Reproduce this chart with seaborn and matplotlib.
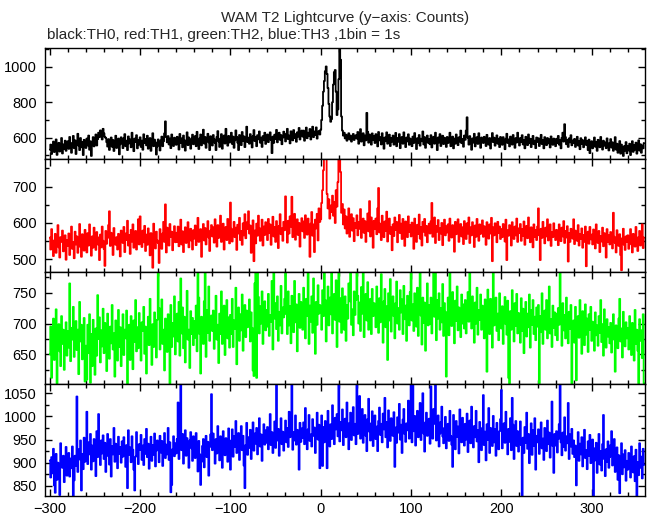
import numpy as np
import matplotlib
matplotlib.use('Agg')
import matplotlib.pyplot as plt
import seaborn as sns
from matplotlib.ticker import MultipleLocator

sns.set_style('ticks')
plt.rcParams['font.family'] = ['Liberation Sans', 'DejaVu Sans']

# light curve, 1 bin = 1 s, first bin at t = -300 s
t_start = -300

# TH0 counts (black)
th0 = [
    532, 561, 508, 550, 578, 519, 541, 590, 503, 556, 571, 522, 547, 598, 511, 562, 536, 583, 526, 554,
    580, 537, 604, 552, 515, 571, 610, 541, 585, 508, 560, 622, 555, 530, 598, 546, 575, 502, 588, 563,
    542, 595, 556, 612, 532, 580, 497, 569, 603, 551, 584, 618, 556, 592, 628, 603, 641, 615, 590, 650,
    624, 605, 598, 575, 550, 592, 531, 568, 601, 549, 587, 525, 565, 611, 542, 580, 595, 506, 563, 602,
    578, 541, 597, 620, 552, 583, 530, 607, 568, 590, 546, 628, 563, 524, 595, 576, 614, 540, 588, 561,
    602, 548, 583, 532, 619, 570, 593, 557, 611, 538, 577, 598, 526, 566, 625, 552, 589, 574, 505, 551,
    590, 563, 528, 584, 606, 552, 580, 624, 692, 603, 574, 609, 562, 595, 541, 618, 578, 553, 600, 570,
    560, 605, 584, 533, 621, 571, 596, 546, 612, 586, 527, 578, 630, 558, 601, 581, 538, 594, 617, 563,
    583, 609, 552, 633, 575, 536, 596, 618, 557, 588, 645, 567, 604, 543, 584, 622, 574, 530, 608, 586,
    556, 615, 592, 570, 530, 604, 637, 579, 548, 595, 620, 538, 590, 612, 567, 650, 581, 555, 610, 573,
    590, 628, 565, 606, 543, 585, 641, 604, 572, 530, 615, 592, 558, 632, 582, 607, 547, 596, 662, 575,
    600, 566, 620, 590, 545, 609, 643, 581, 605, 552, 614, 591, 635, 572, 600, 548, 609, 586, 628, 565,
    594, 618, 575, 608, 630, 587, 513, 606, 571, 617, 592, 644, 574, 607, 628, 588, 615, 563, 601, 634,
    603, 579, 623, 650, 592, 612, 568, 636, 604, 585, 643, 598, 620, 577, 630, 606, 655, 590, 616, 640,
    606, 640, 583, 621, 657, 597, 628, 610, 649, 590, 624, 662, 603, 635, 615, 658, 595, 627, 638, 618,
    645, 700, 780, 860, 920, 975, 1002, 960, 880, 790, 720, 690, 705, 800, 900, 970, 982, 860, 728, 760,
    930, 1150, 1040, 720, 640, 612, 628, 596, 617, 583, 609, 625, 590, 612, 578, 603, 621, 587, 600, 614,
    595, 632, 566, 614, 648, 578, 602, 625, 557, 612, 585, 740, 633, 572, 618, 599, 561, 624, 586, 609,
    570, 620, 597, 551, 632, 585, 603, 562, 625, 594, 538, 601, 580, 630, 566, 592, 617, 553, 598, 578,
    612, 561, 588, 627, 552, 598, 577, 620, 541, 587, 604, 566, 630, 586, 547, 601, 579, 619, 560, 595,
    585, 552, 606, 570, 626, 591, 536, 597, 569, 615, 555, 594, 580, 635, 562, 603, 543, 588, 612, 571,
    593, 563, 614, 545, 584, 605, 566, 628, 582, 530, 601, 573, 620, 553, 590, 611, 564, 600, 578, 548,
    604, 570, 591, 628, 552, 582, 606, 540, 595, 566, 618, 587, 558, 602, 578, 640, 569, 593, 549, 612,
    588, 640, 715, 600, 561, 609, 583, 532, 596, 572, 622, 551, 590, 603, 565, 625, 582, 543, 601, 577,
    570, 605, 580, 553, 616, 591, 561, 598, 539, 588, 626, 575, 600, 555, 583, 613, 566, 594, 547, 604,
    586, 560, 603, 574, 535, 594, 622, 570, 590, 551, 606, 580, 561, 615, 587, 543, 598, 573, 628, 578,
    556, 598, 576, 614, 562, 586, 540, 605, 581, 558, 618, 569, 594, 547, 589, 610, 563, 583, 541, 601,
    576, 597, 553, 589, 616, 564, 585, 540, 603, 577, 558, 598, 568, 591, 545, 607, 581, 560, 595, 572,
    552, 594, 570, 610, 561, 585, 540, 599, 628, 578, 676, 603, 563, 587, 548, 596, 574, 614, 557, 584,
    570, 593, 548, 577, 605, 556, 582, 535, 597, 565, 586, 546, 574, 602, 559, 581, 530, 589, 513, 555,
    580, 540, 566, 601, 549, 575, 526, 588, 563, 546, 604, 568, 533, 583, 555, 573, 541, 596, 567, 528,
    568, 592, 544, 574, 526, 556, 603, 533, 566, 515, 553, 581, 510, 561, 538, 497, 552, 527, 575, 512,
    553, 528, 566, 502, 544, 580, 520, 559, 533, 572, 510, 551, 585, 527, 563, 515, 556, 540, 570,
]

# TH1 counts (red)
th1 = [
    560, 527, 583, 541, 509, 552, 570, 518, 546, 594, 533, 505, 561, 548, 579, 522, 540, 566, 499, 553,
    537, 571, 512, 558, 590, 529, 548, 503, 576, 541, 563, 518, 552, 597, 534, 507, 569, 545, 524, 581,
    546, 519, 572, 538, 596, 555, 510, 563, 532, 587, 549, 526, 575, 541, 560, 498, 568, 533, 590, 551,
    529, 482, 578, 543, 559, 594, 632, 537, 573, 548, 512, 586, 555, 540, 561, 527, 570, 553, 508, 579,
    562, 545, 589, 520, 571, 553, 606, 538, 567, 515, 581, 549, 596, 532, 560, 578, 527, 553, 610, 541,
    618, 556, 534, 579, 547, 592, 523, 568, 540, 585, 556, 511, 572, 546, 477, 598, 563, 530, 576, 552,
    545, 490, 583, 557, 529, 571, 603, 548, 651, 519, 587, 554, 538, 597, 562, 576, 525, 569, 591, 547,
    573, 548, 590, 536, 564, 609, 541, 577, 520, 559, 588, 545, 571, 602, 533, 566, 584, 551, 527, 580,
    557, 593, 539, 575, 614, 548, 566, 583, 507, 571, 597, 552, 586, 541, 568, 605, 560, 523, 579, 594,
    563, 588, 546, 610, 572, 535, 594, 559, 580, 620, 548, 575, 598, 527, 566, 589, 553, 611, 570, 544,
    656, 584, 549, 572, 603, 561, 587, 526, 595, 571, 614, 553, 578, 540, 599, 566, 624, 558, 583, 603,
    632, 571, 593, 518, 584, 607, 495, 579, 544, 598, 565, 620, 586, 551, 573, 609, 538, 590, 567, 602,
    584, 553, 611, 572, 596, 540, 580, 617, 563, 589, 548, 605, 576, 531, 592, 624, 569, 585, 551, 603,
    580, 673, 592, 546, 606, 571, 618, 590, 672, 561, 599, 625, 554, 582, 610, 567, 600, 535, 589, 613,
    577, 604, 559, 621, 590, 568, 612, 583, 507, 598, 630, 565, 596, 520, 609, 585, 625, 552, 640, 603,
    610, 655, 690, 745, 800, 782, 805, 680, 640, 665, 612, 648, 630, 675, 620, 658, 600, 690, 645, 712,
    790, 810, 740, 628, 652, 596, 637, 585, 618, 571, 609, 640, 562, 598, 624, 579, 613, 550, 600, 587,
    621, 566, 603, 584, 638, 559, 597, 612, 573, 605, 548, 590, 626, 577, 660, 563, 615, 588, 532, 606,
    583, 612, 569, 640, 696, 574, 598, 553, 620, 586, 561, 604, 578, 631, 549, 593, 612, 570, 588, 525,
    596, 564, 615, 581, 603, 547, 590, 622, 572, 598, 556, 611, 579, 537, 604, 586, 561, 618, 575, 594,
    563, 601, 578, 529, 612, 584, 548, 595, 570, 623, 557, 589, 538, 603, 576, 611, 565, 592, 547, 580,
    598, 571, 604, 655, 562, 587, 615, 545, 592, 576, 608, 553, 585, 571, 600, 539, 582, 609, 566, 591,
    574, 596, 551, 612, 583, 560, 594, 575, 521, 603, 569, 586, 610, 548, 579, 597, 563, 588, 542, 605,
    580, 556, 599, 571, 615, 545, 588, 566, 602, 578, 534, 593, 562, 611, 577, 551, 596, 570, 585, 607,
    562, 591, 575, 540, 602, 583, 557, 596, 571, 614, 495, 588, 566, 599, 578, 547, 603, 572, 590, 556,
    583, 561, 597, 574, 549, 609, 498, 580, 565, 594, 571, 538, 602, 577, 556, 590, 566, 612, 548, 585,
    572, 597, 551, 583, 565, 604, 540, 578, 592, 558, 615, 569, 547, 588, 574, 533, 596, 562, 581, 553,
    590, 640, 566, 498, 584, 559, 603, 571, 544, 587, 563, 610, 552, 578, 596, 537, 575, 561, 599, 570,
    553, 581, 568, 539, 596, 574, 550, 587, 563, 605, 545, 578, 560, 591, 494, 572, 548, 584, 566, 557,
    610, 542, 579, 563, 551, 594, 538, 570, 556, 585, 532, 567, 548, 590, 481, 561, 576, 543, 589, 555,
    568, 541, 582, 553, 530, 596, 559, 545, 578, 520, 564, 549, 587, 536, 572, 557, 505, 583, 548, 566,
    541, 575, 553, 530, 628, 562, 545, 519, 580, 556, 537, 569, 512, 470, 558, 584, 540, 526, 563, 548,
    566, 529, 557, 583, 541, 519, 570, 552, 535, 589, 546, 523, 561, 578, 538, 555, 596, 531, 560,
]

# TH2 counts (green)
th2 = [
    650, 695, 612, 684, 708, 641, 668, 723, 603, 676, 699, 655, 631, 712, 667, 690, 625, 681, 702, 648,
    688, 661, 765, 639, 693, 674, 727, 646, 680, 704, 657, 690, 618, 735, 671, 698, 642, 683, 709, 606,
    664, 609, 698, 652, 715, 604, 683, 631, 706, 671, 617, 692, 648, 746, 675, 710, 637, 689, 663, 724,
    652, 701, 674, 623, 716, 687, 643, 695, 668, 730, 658, 684, 614, 705, 677, 640, 722, 662, 694, 631,
    687, 715, 649, 690, 676, 721, 603, 669, 698, 641, 712, 683, 626, 705, 670, 738, 655, 694, 660, 717,
    673, 640, 702, 688, 727, 651, 695, 619, 684, 711, 665, 740, 678, 633, 699, 662, 718, 690, 645, 706,
    790, 725, 658, 697, 739, 667, 690, 624, 708, 676, 654, 715, 688, 603, 730, 662, 701, 679, 744, 650,
    692, 716, 671, 735, 648, 773, 684, 726, 660, 711, 637, 697, 753, 674, 690, 628, 720, 683, 709, 665,
    704, 677, 729, 655, 790, 742, 683, 619, 711, 690, 667, 736, 790, 646, 722, 685, 760, 672, 695, 713,
    688, 721, 659, 707, 745, 674, 698, 636, 716, 683, 752, 667, 701, 729, 649, 692, 738, 676, 710, 661,
    714, 683, 740, 662, 705, 691, 758, 634, 699, 726, 672, 715, 689, 747, 656, 703, 730, 678, 721, 694,
    706, 739, 671, 718, 693, 624, 615, 765, 790, 612, 790, 743, 684, 728, 700, 752, 667, 711, 736, 689,
    722, 695, 748, 680, 714, 703, 769, 658, 790, 708, 733, 691, 744, 672, 719, 697, 761, 684, 726, 710,
    740, 790, 715, 683, 752, 697, 728, 668, 745, 710, 686, 769, 702, 731, 655, 720, 748, 693, 735, 707,
    690, 758, 721, 676, 740, 712, 784, 667, 729, 703, 744, 685, 773, 710, 651, 735, 698, 762, 716, 730,
    725, 690, 754, 712, 783, 738, 671, 720, 760, 697, 742, 715, 790, 684, 731, 748, 706, 770, 662, 726,
    790, 703, 741, 685, 757, 719, 690, 744, 672, 730, 708, 765, 736, 790, 698, 723, 681, 752, 714, 738,
    790, 745, 700, 734, 688, 759, 716, 790, 678, 729, 748, 705, 767, 690, 721, 740, 683, 756, 712, 733,
    718, 694, 760, 727, 685, 741, 702, 780, 715, 669, 736, 756, 694, 728, 641, 749, 705, 772, 687, 730,
    744, 712, 676, 733, 768, 700, 725, 690, 754, 718, 739, 683, 761, 707, 729, 672, 745, 716, 697, 751,
    790, 705, 731, 688, 749, 720, 695, 758, 680, 727, 790, 713, 666, 742, 701, 734, 656, 723, 765, 697,
    730, 699, 742, 684, 720, 790, 711, 790, 673, 738, 708, 749, 690, 725, 702, 764, 680, 733, 719, 614,
    705, 742, 681, 790, 723, 696, 751, 712, 668, 737, 704, 760, 689, 726, 715, 678, 747, 700, 731, 692,
    738, 684, 717, 751, 703, 790, 725, 692, 744, 711, 669, 734, 700, 758, 682, 722, 706, 747, 690, 729,
    713, 676, 739, 698, 622, 755, 709, 683, 740, 718, 661, 790, 697, 725, 742, 688, 716, 673, 749, 705,
    692, 728, 667, 715, 743, 699, 682, 737, 612, 603, 720, 690, 754, 705, 671, 733, 696, 748, 684, 717,
    703, 669, 741, 688, 724, 652, 710, 735, 679, 716, 694, 747, 661, 722, 698, 738, 683, 711, 673, 726,
    695, 730, 603, 712, 686, 749, 667, 704, 721, 690, 738, 676, 714, 760, 684, 707, 662, 729, 693, 718,
    681, 716, 673, 725, 698, 790, 706, 664, 733, 689, 714, 676, 742, 700, 668, 719, 691, 730, 603, 688,
    705, 669, 727, 608, 694, 712, 677, 738, 686, 651, 720, 699, 665, 731, 682, 708, 654, 715, 690, 727,
    672, 703, 689, 656, 718, 681, 697, 664, 712, 685, 738, 670, 699, 648, 723, 686, 661, 707, 679, 694,
    668, 701, 653, 689, 715, 674, 622, 697, 683, 660, 708, 740, 671, 692, 645, 719, 680, 663, 702, 676,
    693, 658, 712, 675, 649, 701, 684, 640, 722, 667, 690, 656, 603, 707, 672, 689, 644, 715, 603,
]

# TH3 counts (blue)
th3 = [
    905, 868, 912, 877, 930, 851, 835, 919, 863, 900, 883, 830, 942, 907, 889, 915, 858, 898, 934, 872,
    896, 921, 870, 909, 888, 935, 828, 862, 915, 893, 1043, 880, 929, 907, 948, 840, 919, 886, 954, 902,
    931, 1010, 897, 944, 918, 962, 885, 937, 903, 951, 926, 871, 968, 912, 1005, 933, 895, 948, 920, 959,
    908, 943, 880, 927, 962, 914, 896, 951, 870, 936, 918, 975, 902, 941, 925, 888, 956, 919, 934, 900,
    946, 913, 955, 924, 891, 938, 845, 970, 917, 933, 901, 957, 928, 885, 840, 913, 966, 922, 897, 940,
    928, 960, 906, 937, 895, 951, 919, 973, 912, 941, 887, 929, 956, 904, 938, 917, 963, 892, 926, 948,
    935, 901, 958, 922, 947, 893, 930, 964, 910, 939, 918, 975, 906, 944, 836, 852, 929, 957, 914, 942,
    920, 951, 1030, 908, 945, 1075, 927, 962, 898, 941, 970, 915, 953, 926, 889, 948, 966, 931, 904, 957,
    938, 910, 964, 925, 881, 947, 918, 852, 902, 936, 951, 890, 929, 958, 912, 945, 872, 934, 961, 1048,
    927, 963, 935, 898, 951, 920, 979, 942, 905, 957, 931, 889, 968, 944, 916, 953, 937, 902, 974, 929,
    885, 948, 972, 913, 957, 934, 990, 921, 949, 964, 906, 943, 979, 927, 958, 894, 845, 938, 986, 917,
    955, 932, 971, 908, 949, 987, 926, 963, 941, 975, 918, 952, 996, 935, 961, 904, 958, 983, 939, 970,
    943, 977, 929, 960, 1005, 938, 966, 921, 954, 989, 932, 1075, 948, 973, 915, 957, 996, 940, 967, 926,
    962, 991, 944, 975, 934, 1010, 955, 981, 1075, 928, 966, 948, 1002, 939, 971, 957, 885, 986, 945, 974,
    953, 987, 940, 1018, 966, 929, 972, 1003, 947, 961, 935, 994, 958, 976, 921, 969, 1008, 950, 982, 888,
    961, 1002, 893, 977, 944, 990, 958, 888, 1012, 969, 935, 983, 951, 1024, 966, 940, 997, 972, 1005, 957,
    1075, 946, 988, 970, 1015, 938, 962, 995, 955, 1030, 978, 929, 986, 1008, 949, 973, 1020, 959, 984, 940,
    1075, 962, 999, 1044, 952, 980, 1016, 943, 971, 1003, 958, 925, 994, 1038, 967, 948, 985, 1011, 936, 976,
    1002, 951, 978, 925, 990, 1019, 960, 984, 944, 1006, 972, 1040, 955, 988, 933, 1013, 969, 947, 996, 975,
    958, 1009, 891, 976, 943, 998, 965, 1027, 950, 982, 921, 993, 1016, 962, 945, 985, 970, 1034, 952, 989,
    1075, 944, 1075, 968, 1001, 937, 976, 1012, 955, 983, 1029, 949, 991, 1050, 963, 924, 987, 1008, 958, 972,
    995, 941, 1065, 979, 952, 1016, 984, 1075, 948, 970, 1002, 935, 963, 988, 1021, 957, 942, 975, 999, 931,
    966, 984, 947, 1012, 958, 939, 891, 1003, 972, 929, 990, 956, 978, 920, 1015, 962, 944, 997, 968, 937,
    984, 950, 1006, 923, 968, 991, 942, 1021, 960, 933, 979, 955, 1012, 946, 970, 901, 988, 962, 927, 975,
    1046, 938, 967, 905, 983, 949, 1018, 921, 975, 958, 936, 1001, 944, 972, 915, 986, 953, 929, 968, 994,
    1057, 931, 962, 985, 943, 1010, 957, 918, 973, 945, 996, 927, 1040, 982, 908, 951, 990, 936, 968, 924,
    960, 989, 938, 820, 954, 921, 977, 943, 1008, 930, 962, 899, 948, 985, 917, 970, 936, 996, 885, 958,
    944, 972, 919, 958, 987, 931, 952, 906, 975, 948, 925, 991, 940, 965, 911, 957, 1032, 936, 878, 962,
    937, 968, 922, 951, 983, 1075, 944, 916, 965, 934, 998, 926, 957, 942, 1029, 908, 961, 935, 973, 919,
    948, 912, 937, 851, 929, 966, 904, 941, 918, 955, 892, 933, 971, 910, 927, 886, 946, 915, 960, 899,
    922, 950, 828, 931, 905, 943, 878, 917, 962, 896, 925, 883, 940, 1003, 908, 871, 929, 902, 946, 889,
    912, 938, 968, 894, 921, 951, 880, 907, 933, 863, 916, 834, 899, 942, 875, 918, 890, 927, 861, 904,
    885, 921, 897, 868, 935, 906, 879, 914, 860, 928, 828, 901, 873, 942, 889, 913, 866, 930, 895,
]

series = [th0, th1, th2, th3]
colors = ['#000000', '#ff0000', '#00ff00', '#0000ff']
ylims = [(478, 1108), (466, 775), (602, 784), (828, 1070)]
major_steps = [200, 100, 50, 50]
minor_steps = [100, 50, 25, 25]

fig = plt.figure(figsize=(6.52, 5.15), dpi=100)

# panel boxes in pixels (top, bottom) of a 652x515 canvas
left_px, right_px = 45.3, 645.0
panel_px = [(47.7, 159.3), (159.3, 271.7), (271.7, 384.0), (384.0, 496.0)]

for i, counts in enumerate(series):
    top, bottom = panel_px[i]
    ax = fig.add_axes([left_px / 652, 1 - bottom / 515,
                       (right_px - left_px) / 652, (bottom - top) / 515])
    time = t_start + np.arange(len(counts))
    sns.lineplot(x=time, y=counts, ax=ax, color=colors[i], linewidth=1.3,
                 drawstyle='steps-mid', estimator=None, sort=False)

    ax.set_xlim(-305, 359)
    ax.set_ylim(*ylims[i])
    ax.set_xlabel('')
    ax.set_ylabel('')

    ax.xaxis.set_major_locator(MultipleLocator(100))
    ax.xaxis.set_minor_locator(MultipleLocator(20))
    ax.yaxis.set_major_locator(MultipleLocator(major_steps[i]))
    ax.yaxis.set_minor_locator(MultipleLocator(minor_steps[i]))

    ax.tick_params(which='both', direction='in', top=True, right=True,
                   width=1.0, labelsize=10.5, colors='black')
    ax.tick_params(which='major', length=5)
    ax.tick_params(which='minor', length=3)
    ax.tick_params(axis='y', pad=6)
    ax.tick_params(axis='x', pad=4, labelbottom=(i == 3))

    for spine in ax.spines.values():
        spine.set_linewidth(1.0)
        spine.set_color('black')

fig.text(345 / 652, 1 - 21.7 / 515, 'WAM T2 Lightcurve (y\u2212axis: Counts)',
         ha='center', va='baseline', fontsize=11)
fig.text(46.7 / 652, 1 - 38.5 / 515, 'black:TH0, red:TH1, green:TH2, blue:TH3 ,1bin = 1s',
         ha='left', va='baseline', fontsize=11)

fig.savefig('out.png', dpi=100)
